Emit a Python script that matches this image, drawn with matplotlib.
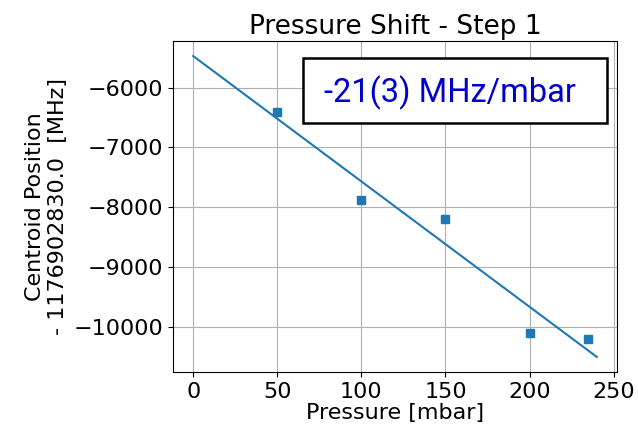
import matplotlib
matplotlib.use("Agg")
import matplotlib.pyplot as plt
from matplotlib.patches import Rectangle
import numpy as np

pressure = [50, 100, 150, 200, 235]
centroid = [-6405, -7872, -8205, -10110, -10200]
fit_x = [0, 240]
fit_intercept = -5472
fit_slope = -20.97

fig = plt.figure(figsize=(6.38, 4.29), dpi=100)
ax = fig.add_axes([173 / 638, 1 - 372 / 429, 444 / 638, 331 / 429])

xs = np.array(fit_x, dtype=float)
ax.plot(xs, fit_intercept + fit_slope * xs, color="#1f77b4", linewidth=1.5)
ax.plot(pressure, centroid, "s", color="#1f77b4", markersize=6)

ax.set_xticks([0, 50, 100, 150, 200, 250])
ax.set_yticks([-6000, -7000, -8000, -9000, -10000])
ax.tick_params(labelsize=16)
ax.grid(True, color="#b0b0b0", linewidth=0.8)
ax.set_xlabel("Pressure [mbar]", fontsize=16, labelpad=1)
ax.set_ylabel("Centroid Position\n- 1176902830.0  [MHz]", fontsize=16, labelpad=4)
ax.set_title("Pressure Shift - Step 1", fontsize=19, pad=5)

# result box
ax.add_patch(Rectangle((0.293, 0.752), 0.684, 0.197, transform=ax.transAxes,
                       facecolor="white", edgecolor="black", linewidth=1.8, zorder=3))
ax.text(0.624, 0.845, "-21(3) MHz/mbar", transform=ax.transAxes, ha="center", va="center",
        fontsize=23.5, color="#0000cc", family="Roboto", zorder=4)

fig.savefig("out.png", dpi=100)
